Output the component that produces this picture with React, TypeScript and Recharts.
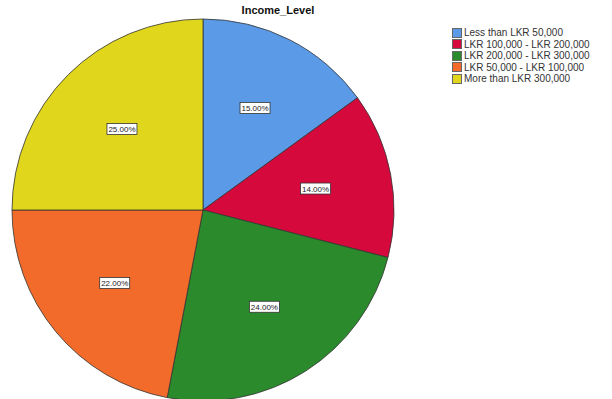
import { PieChart, Pie, Cell } from 'recharts'

const categories = [
  'Less than LKR 50,000',
  'LKR 100,000 - LKR 200,000',
  'LKR 200,000 - LKR 300,000',
  'LKR 50,000 - LKR 100,000',
  'More than LKR 300,000',
]
const percents = [15, 14, 24, 22, 25]
const colors = ['#5b9ae6', '#d5093b', '#2b8a2b', '#f26b2a', '#e0d61c']

const data = categories.map((name, i) => ({ name, value: percents[i], color: colors[i] }))

const RADIAN = Math.PI / 180

function renderLabel(props: any) {
  const { cx, cy, midAngle, outerRadius, value } = props
  const r = outerRadius * 0.6
  const x = cx + r * Math.cos(-midAngle * RADIAN)
  const y = cy + r * Math.sin(-midAngle * RADIAN)
  const text = `${value.toFixed(2)}%`
  const w = 30
  const h = 11
  return (
    <g>
      <rect x={x - w / 2} y={y - h / 2} width={w} height={h} fill="#fff" stroke="#333" strokeWidth={0.8} />
      <text x={x} y={y + 3} textAnchor="middle" fontSize={8} fill="#222" fontFamily="Liberation Sans, Arial, sans-serif">
        {text}
      </text>
    </g>
  )
}

export default function App() {
  return (
    <div style={{ position: 'absolute', left: 0, top: 0, width: 612, height: 399, background: '#fff', overflow: 'hidden' }}>
      <div
        style={{
          position: 'absolute',
          left: 0,
          top: 4,
          width: 556,
          textAlign: 'center',
          fontFamily: 'Liberation Sans, Arial, sans-serif',
          fontWeight: 'bold',
          fontSize: 11,
          color: '#111',
        }}
      >
        Income_Level
      </div>
      <PieChart width={612} height={399} margin={{ top: 0, right: 0, bottom: 0, left: 0 }}>
        <Pie
          data={data}
          dataKey="value"
          nameKey="name"
          cx={203}
          cy={210}
          outerRadius={191}
          startAngle={90}
          endAngle={-270}
          stroke="#333"
          strokeWidth={0.8}
          label={renderLabel}
          labelLine={false}
          isAnimationActive={false}
        >
          {data.map((d) => (
            <Cell key={d.name} fill={d.color} />
          ))}
        </Pie>
      </PieChart>
      {/* Legend */}
      <div
        style={{
          position: 'absolute',
          left: 452,
          top: 27,
          fontFamily: 'Liberation Sans, Arial, sans-serif',
          fontSize: 10,
          color: '#333',
          lineHeight: '11.5px',
        }}
      >
        {data.map((d) => (
          <div key={d.name} style={{ display: 'flex', alignItems: 'center', whiteSpace: 'nowrap' }}>
            <span style={{ width: 8, height: 8, background: d.color, border: '0.5px solid #666', marginRight: 2, flexShrink: 0 }} />
            <span>{d.name}</span>
          </div>
        ))}
      </div>
    </div>
  )
}
